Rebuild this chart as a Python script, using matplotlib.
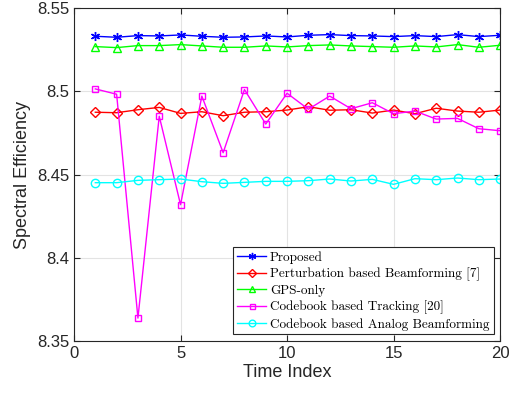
import matplotlib
matplotlib.use('Agg')
import matplotlib.pyplot as plt
import numpy as np

t = np.arange(1, 21)

proposed = [8.5330, 8.5324, 8.5334, 8.5332, 8.5338, 8.5330, 8.5324, 8.5326, 8.5332, 8.5326,
            8.5336, 8.5340, 8.5334, 8.5332, 8.5328, 8.5334, 8.5328, 8.5340, 8.5328, 8.5336]
perturb = [8.4874, 8.4871, 8.4889, 8.4903, 8.4867, 8.4877, 8.4853, 8.4874, 8.4877, 8.4887,
           8.4907, 8.4886, 8.4889, 8.4869, 8.4887, 8.4865, 8.4898, 8.4881, 8.4874, 8.4887]
gps_only = [8.5268, 8.5262, 8.5274, 8.5274, 8.5280, 8.5272, 8.5264, 8.5264, 8.5272, 8.5266,
            8.5274, 8.5278, 8.5272, 8.5268, 8.5264, 8.5272, 8.5266, 8.5280, 8.5264, 8.5276]
codebook_track = [8.5014, 8.4982, 8.3638, 8.4850, 8.4319, 8.4971, 8.4631, 8.5010, 8.4803, 8.4988,
                  8.4892, 8.4971, 8.4895, 8.4931, 8.4865, 8.4881, 8.4833, 8.4837, 8.4775, 8.4763]
codebook_analog = [8.4451, 8.4451, 8.4465, 8.4469, 8.4473, 8.4457, 8.4447, 8.4453, 8.4459, 8.4459,
                   8.4463, 8.4473, 8.4461, 8.4471, 8.4441, 8.4475, 8.4469, 8.4479, 8.4469, 8.4473]

labels = ['Proposed', 'Perturbation based Beamforming [7]', 'GPS-only',
          'Codebook based Tracking [20]', 'Codebook based Analog Beamforming']

plt.rcParams['font.family'] = ['Liberation Sans', 'DejaVu Sans']

fig = plt.figure(figsize=(5.14, 3.98), dpi=100)
ax = fig.add_axes([0.144, 0.143, 0.829, 0.837])

asterisk = (6, 2, 0)
ax.plot(t, proposed, color='#0000ff', marker=asterisk, ms=6.5, mew=1.0, lw=1.0, label=labels[0])
ax.plot(t, perturb, color='#ff0000', marker='D', ms=5, mfc='none', mew=1.0, lw=1.0, label=labels[1])
ax.plot(t, gps_only, color='#00ff00', marker='^', ms=6, mfc='none', mew=1.0, lw=1.0, label=labels[2])
ax.plot(t, codebook_track, color='#ff00ff', marker='s', ms=4.5, mfc='none', mew=1.0, lw=1.0, label=labels[3])
ax.plot(t, codebook_analog, color='#00ffff', marker='o', ms=6, mfc='none', mew=1.0, lw=1.0, label=labels[4])

ax.set_xlim(0, 20)
ax.set_ylim(8.35, 8.55)
ax.set_xticks([0, 5, 10, 15, 20])
ax.set_yticks([8.35, 8.4, 8.45, 8.5, 8.55])
ax.set_yticklabels(['8.35', '8.4', '8.45', '8.5', '8.55'])
ax.grid(True, color='#e3e3e3', lw=0.8)
ax.set_axisbelow(True)
ax.tick_params(direction='in', top=True, right=True, labelsize=12, colors='#262626', length=4)
for s in ax.spines.values():
    s.set_color('#262626')
    s.set_linewidth(0.8)

ax.set_xlabel('Time Index', fontsize=13, color='#262626', labelpad=2)
ax.set_ylabel('Spectral Efficiency', fontsize=13, color='#262626', labelpad=4)

leg = ax.legend(loc='lower right', prop={'family': 'cmr10', 'size': 9.5},
                fancybox=False, edgecolor='#262626', framealpha=1, markerscale=0.8,
                handlelength=2.2, handletextpad=0.3, labelspacing=0.28,
                borderpad=0.3, borderaxespad=0.5)
leg.get_frame().set_linewidth(0.8)

fig.savefig('out.png', dpi=100)
